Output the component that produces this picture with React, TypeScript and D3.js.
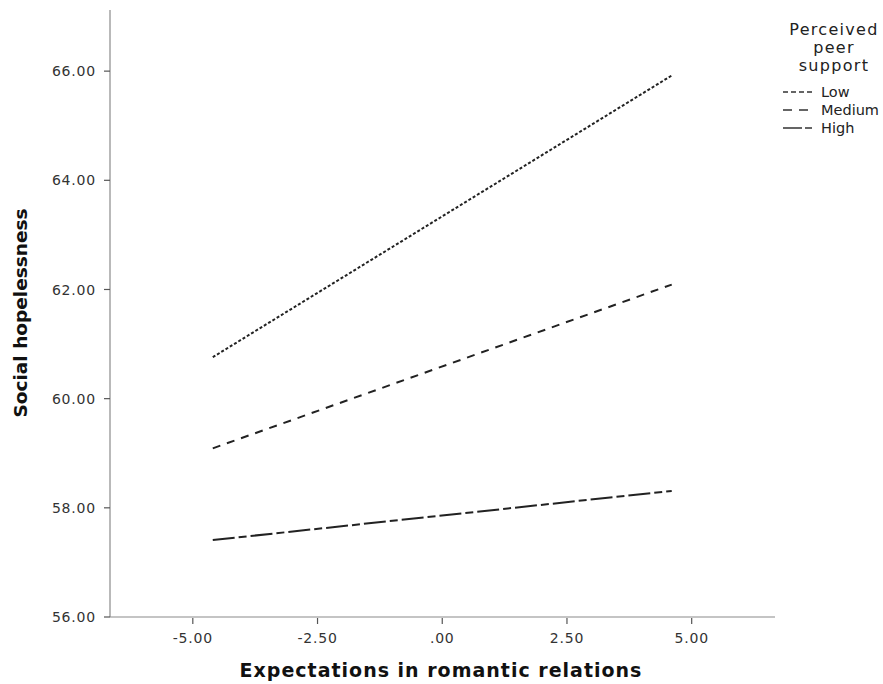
import React, { useEffect, useRef } from "react";
import * as d3 from "d3";

const groups = ["Low", "Medium", "High"];
const xEnds = [-4.6, 4.6];
const lowValues = [60.76, 65.92];
const mediumValues = [59.09, 62.09];
const highValues = [57.41, 58.31];
const xTicks = [-5, -2.5, 0, 2.5, 5];
const yTicks = [56, 58, 60, 62, 64, 66];
const dashes = ["3,2", "8,7", "22,4,8,4"];
const legendDashes = ["5,3", "9,7", "19,3,7,3"];

export default function App() {
  const ref = useRef<SVGSVGElement>(null);
  useEffect(() => {
    const svg = d3.select(ref.current);
    svg.selectAll("*").remove();
    const x = d3.scaleLinear().domain([-6.66, 6.67]).range([110, 775]);
    const y = d3.scaleLinear().domain([56, 67.12]).range([617, 10]);
    const font = "'DejaVu Sans', Verdana, sans-serif";
    const axisColor = "#8a8a8a";

    svg.append("line").attr("x1", 110).attr("x2", 110).attr("y1", 10).attr("y2", 617)
      .attr("stroke", axisColor).attr("stroke-width", 1.2);
    svg.append("line").attr("x1", 110).attr("x2", 775).attr("y1", 617).attr("y2", 617)
      .attr("stroke", axisColor).attr("stroke-width", 1.2);

    yTicks.forEach((t) => {
      svg.append("line").attr("x1", 104).attr("x2", 110).attr("y1", y(t)).attr("y2", y(t))
        .attr("stroke", "#555").attr("stroke-width", 1.2);
      svg.append("text").attr("x", 96).attr("y", y(t)).attr("dy", "0.36em")
        .attr("text-anchor", "end").attr("font-family", font).attr("font-size", 14)
        .attr("letter-spacing", 0.8).attr("fill", "#333").text(t.toFixed(2));
    });
    xTicks.forEach((t) => {
      svg.append("line").attr("x1", x(t)).attr("x2", x(t)).attr("y1", 618).attr("y2", 624)
        .attr("stroke", "#555").attr("stroke-width", 1.2);
      const label = t === 0 ? ".00" : t.toFixed(2);
      svg.append("text").attr("x", x(t)).attr("y", 643)
        .attr("text-anchor", "middle").attr("font-family", font).attr("font-size", 14)
        .attr("letter-spacing", 0.8).attr("fill", "#333").text(label);
    });

    svg.append("text").attr("x", 441).attr("y", 677).attr("text-anchor", "middle")
      .attr("font-family", font).attr("font-size", 19).attr("font-weight", "bold")
      .attr("letter-spacing", 1).attr("fill", "#111").text("Expectations in romantic relations");
    svg.append("text").attr("transform", "translate(27,313) rotate(-90)")
      .attr("text-anchor", "middle").attr("font-family", font).attr("font-size", 18.5)
      .attr("font-weight", "bold").attr("fill", "#111").text("Social hopelessness");

    const series = [lowValues, mediumValues, highValues];
    const line = d3.line<number>().x((_, i) => x(xEnds[i])).y((d) => y(d));
    series.forEach((vals, i) => {
      svg.append("path").attr("d", line(vals)).attr("fill", "none")
        .attr("stroke", "#222").attr("stroke-width", 2).attr("stroke-dasharray", dashes[i]);
    });

    ["Perceived", "peer", "support"].forEach((s, i) => {
      svg.append("text").attr("x", 834).attr("y", 35 + i * 18).attr("text-anchor", "middle")
        .attr("font-family", font).attr("font-size", 16).attr("letter-spacing", 1.3)
        .attr("fill", "#222").text(s);
    });
    groups.forEach((g, i) => {
      const ly = 92 + i * 18;
      svg.append("line").attr("x1", 783).attr("x2", 815).attr("y1", ly).attr("y2", ly)
        .attr("stroke", "#333").attr("stroke-width", 1.5).attr("stroke-dasharray", legendDashes[i]);
      svg.append("text").attr("x", 821).attr("y", ly).attr("dy", "0.36em")
        .attr("font-family", font).attr("font-size", 14.5).attr("fill", "#222").text(g);
    });
  }, []);
  return (
    <svg ref={ref} width={883} height={684}
      style={{ position: "absolute", left: 0, top: 0, background: "#fff" }} />
  );
}
